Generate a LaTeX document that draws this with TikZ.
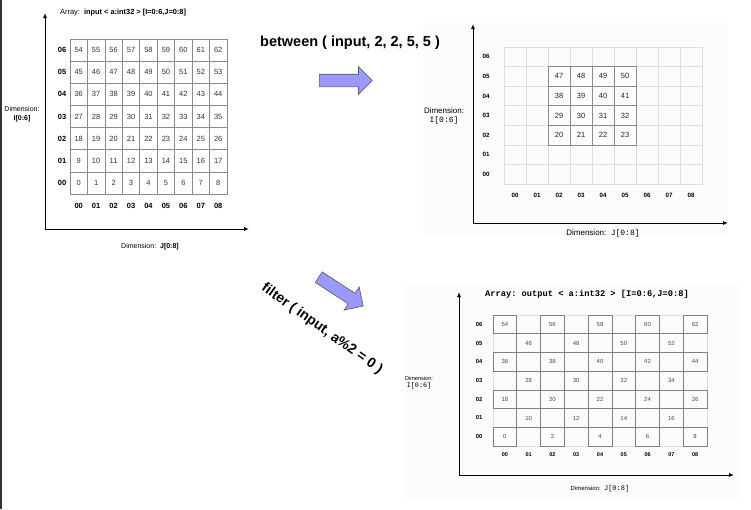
\documentclass[tikz,border=0pt]{standalone}
\usepackage{fontspec}
\setmainfont{Liberation Sans}
\setmonofont{Liberation Mono}
\usepackage{tikz}
\usetikzlibrary{arrows.meta,shapes.arrows,positioning}
\definecolor{cArrow}{HTML}{9999FF}
\definecolor{cGrid}{HTML}{DEDEDE}
\definecolor{cCell}{HTML}{8C8C8C}
\definecolor{cPanel}{HTML}{FCFCFC}
\tikzset{
  axis/.style={line width=1pt,-{Latex[length=5pt,width=4pt]}},
  lbl/.style={inner sep=0pt,font=\fontsize{7}{8.5}\selectfont,align=center},
  cellA/.style={draw=cCell,line width=.7pt,minimum width=17.44pt,minimum height=22.14pt,inner sep=0pt,font=\fontsize{7.5}{8}\selectfont,text=black!80},
  rowA/.style={inner sep=0pt,font=\fontsize{7.5}{8}\selectfont\bfseries},
  cellB/.style={draw=cGrid,line width=.6pt,minimum width=22pt,minimum height=19.57pt,inner sep=0pt},
  cellBon/.style={draw=black!45,line width=.7pt,minimum width=22pt,minimum height=19.57pt,inner sep=0pt,font=\fontsize{7.5}{8}\selectfont,text=black!85},
  rowB/.style={inner sep=0pt,font=\fontsize{6.2}{7}\selectfont\bfseries},
  cellC/.style={draw=cGrid,line width=.6pt,minimum width=23.78pt,minimum height=18.71pt,inner sep=0pt},
  cellCon/.style={draw=black!50,line width=.7pt,minimum width=23.78pt,minimum height=18.71pt,inner sep=0pt,font=\fontsize{6}{7}\selectfont,text=black!70},
  rowC/.style={inner sep=0pt,font=\fontsize{5.8}{7}\selectfont\bfseries},
  blockarr/.style={single arrow,draw=black!65,line width=.6pt,fill=cArrow,inner xsep=0pt,inner ysep=6pt,single arrow head extend=7.5pt,single arrow head indent=0pt,minimum height=53pt},
  opname/.style={inner sep=0pt,font=\fontsize{14.5}{16}\selectfont\bfseries},
}

\begin{document}
\begin{tikzpicture}[x=1pt,y=-1pt]
  \useasboundingbox (0,0) rectangle (751,509);
  \fill[black!80] (0,0) rectangle (2,509);
  % panel backgrounds
  \fill[cPanel] (423,23) rectangle (728,235);
  \fill[cPanel] (405,284) rectangle (740,500);

  % input array
  \coordinate (o1) at (45,229);
  \coordinate (y1) at (45,13);
  \coordinate (x1) at (249,229);
  \draw[axis] (o1) -- (y1);
  \draw[axis] (o1) -- (x1);
  \node[lbl,anchor=west,font=\fontsize{7.4}{8}\selectfont] (tIn) at (60,13) {Array:\ \ \textbf{input < a:int32 > [I=0:6,J=0:8]}};
  \foreach \r in {0,...,6}{
    \node[rowA] (ar\r) at (62,{194-(\r+0.5)*22.14}) {0\r};
    \foreach \c in {0,...,8}{
      \pgfmathtruncatemacro\v{9*\r+\c}
      \node[cellA] (a\c\r) at ({70+(\c+0.5)*17.44},{194-(\r+0.5)*22.14}) {\v};
    }
  }
  \foreach \c in {0,...,8}{\node[rowA] (ac\c) at ({70+(\c+0.5)*17.44},206) {0\c};}
  \node[lbl] (dimIa) at (22,114) {Dimension:\\\textbf{I[0:6]}};
  \node[lbl] (dimJa) at (150,247) {Dimension:\ \ \textbf{J[0:8]}};

  % operators
  \node[opname] (tBetween) at (350,43) {between ( input, 2, 2, 5, 5 )};
  \node[blockarr,anchor=tail] (aBetween) at (319,80.5) {};
  \node[opname,font=\fontsize{14}{16}\selectfont\bfseries,rotate=-35.5] (tFilter) at (322,329) {filter ( input, a\%2 = 0 )};
  \node[blockarr,anchor=tail,rotate=-33] (aFilter) at (318.5,277) {};

  % between result
  \coordinate (o2) at (473,223);
  \coordinate (y2) at (473,24);
  \coordinate (x2) at (728,223);
  \foreach \r in {0,...,6}{
    \node[rowB] (br\r) at (486,{184-(\r+0.5)*19.57}) {0\r};
    \foreach \c in {0,...,8}{
      \node[cellB] (b\c\r) at ({504+(\c+0.5)*22},{184-(\r+0.5)*19.57}) {};
    }
  }
  \foreach \c in {2,...,5}{
    \foreach \r in {2,...,5}{
      \pgfmathtruncatemacro\v{9*\r+\c}
      \node[cellBon] (bv\c\r) at (b\c\r) {\v};
    }
  }
  \foreach \c in {0,...,8}{\node[rowB] (bc\c) at ({504+(\c+0.5)*22},195) {0\c};}
  \draw[axis] (o2) -- (y2);
  \draw[axis] (o2) -- (x2);
  \node[lbl,font=\fontsize{8}{9}\selectfont] (dimIb) at (444,116) {Dimension:\\\texttt{I[0:6]}};
  \node[lbl,font=\fontsize{8}{9}\selectfont] (dimJb) at (603,233) {Dimension:\ \ \texttt{J[0:8]}};

  % filter result
  \coordinate (o3) at (459,475);
  \coordinate (y3) at (459,292);
  \coordinate (x3) at (734,475);
  \node[lbl,font=\fontsize{8.7}{10}\selectfont\ttfamily\bfseries] (tOut) at (587,294) {Array: output < a:int32 > [I=0:6,J=0:8]};
  \foreach \r in {0,...,6}{
    \node[rowC] (cr\r) at (479,{446-(\r+0.5)*18.71}) {0\r};
    \foreach \c in {0,...,8}{
      \node[cellC] (c\c\r) at ({493+(\c+0.5)*23.78},{446-(\r+0.5)*18.71}) {};
    }
  }
  \foreach \c in {0,...,8}{
    \foreach \r in {0,...,6}{
      \pgfmathtruncatemacro\v{9*\r+\c}
      \ifodd\v\else\node[cellCon] (cv\c\r) at (c\c\r) {\v};\fi
    }
  }
  \foreach \c in {0,...,8}{\node[rowC,font=\fontsize{5.5}{6}\selectfont\bfseries] (cc\c) at ({493+(\c+0.5)*23.78},455) {0\c};}
  \draw[axis] (o3) -- (y3);
  \draw[axis] (o3) -- (x3);
  \node[lbl,font=\fontsize{5.6}{7}\selectfont] (dimIc) at (419,383) {Dimension:\\{\fontsize{6.8}{7}\selectfont\ttfamily I[0:6]}};
  \node[lbl,font=\fontsize{6}{7}\selectfont] (dimJc) at (600,489) {Dimension:\ \ {\fontsize{7}{7}\selectfont\ttfamily J[0:8]}};
\end{tikzpicture}
\end{document}
